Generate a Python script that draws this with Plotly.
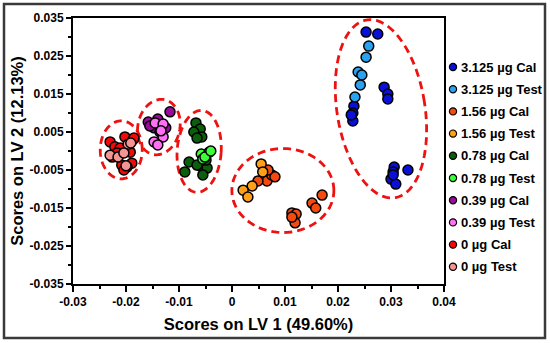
import numpy as np
import plotly.graph_objects as go

# ---- data (LV1, LV2 scores) ----
cal_3125_x = [0.0253, 0.0275, 0.0287, 0.0294, 0.0294, 0.0230, 0.0228, 0.0228, 0.0225,
              0.0306, 0.0304, 0.0300, 0.0309, 0.0304, 0.0332]
cal_3125_y = [0.0313, 0.0308, 0.0168, 0.0150, 0.0137, 0.0118, 0.0100, 0.0079, 0.0095,
              -0.0042, -0.0055, -0.0074, -0.0087, -0.0063, -0.0050]
test_3125_x = [0.0258, 0.0253, 0.0238, 0.0245, 0.0242, 0.0232]
test_3125_y = [0.0276, 0.0247, 0.0208, 0.0200, 0.0174, 0.0142]

cal_156_x = [0.0066, 0.0075, 0.0081, 0.0049, 0.0068, 0.0113, 0.0121, 0.0119, 0.0113,
             0.0151, 0.0170, 0.0158]
cal_156_y = [-0.0079, -0.0063, -0.0068, -0.0079, -0.0050, -0.0163, -0.0166, -0.0189, -0.0174,
             -0.0137, -0.0116, -0.0150]
test_156_x = [0.0055, 0.0058, 0.0038, 0.0021, 0.0030]
test_156_y = [-0.0034, -0.0055, -0.0092, -0.0103, -0.0121]

cal_078_x = [-0.0068, -0.0060, -0.0072, -0.0057, -0.0066, -0.0081, -0.0089, -0.0060,
             -0.0047, -0.0055, -0.0066, -0.0049]
cal_078_y = [0.0074, 0.0058, 0.0050, 0.0037, 0.0034, -0.0029, -0.0055, -0.0039,
             -0.0045, -0.0063, -0.0037, -0.0024]
test_078_x = [-0.0058, -0.0043, -0.0055, -0.0051, -0.0040]
test_078_y = [-0.0008, -0.0003, -0.0021, -0.0016, 0.0000]

cal_039_x = [-0.0117, -0.0158, -0.0147, -0.0155, -0.0125, -0.0136, -0.0140]
cal_039_y = [0.0103, 0.0076, 0.0061, 0.0066, 0.0061, 0.0050, 0.0084]
test_039_x = [-0.0145, -0.0130, -0.0130, -0.0147, -0.0140, -0.0134]
test_039_y = [0.0074, 0.0071, 0.0037, 0.0024, 0.0016, 0.0053]

cal_0_x = [-0.0230, -0.0202, -0.0187, -0.0185, -0.0221, -0.0211, -0.0226, -0.0189,
           -0.0198, -0.0208, -0.0192, -0.0217, -0.0204]
cal_0_y = [0.0024, 0.0037, 0.0029, 0.0034, 0.0011, 0.0008, -0.0016, -0.0032,
           -0.0042, -0.0037, -0.0003, -0.0005, -0.0050]
test_0_x = [-0.0196, -0.0230, -0.0215, -0.0200, -0.0204, -0.0191]
test_0_y = [0.0018, -0.0011, -0.0016, -0.0039, -0.0005, 0.0021]

series_names = ["3.125 µg Cal", "3.125 µg Test", "1.56 µg Cal", "1.56 µg Test",
                "0.78 µg Cal", "0.78 µg Test", "0.39 µg Cal", "0.39 µg Test",
                "0 µg Cal", "0 µg Test"]
series_x = [cal_3125_x, test_3125_x, cal_156_x, test_156_x, cal_078_x, test_078_x,
            cal_039_x, test_039_x, cal_0_x, test_0_x]
series_y = [cal_3125_y, test_3125_y, cal_156_y, test_156_y, cal_078_y, test_078_y,
            cal_039_y, test_039_y, cal_0_y, test_0_y]
colors = ["#0a10d8", "#2aa2f0", "#f44a10", "#ffa018", "#0b5e0b",
          "#38ff38", "#9a0a9a", "#ff70f4", "#f20a0a", "#f49494"]

x_ticks = [-0.03, -0.02, -0.01, 0, 0.01, 0.02, 0.03, 0.04]
x_ticklabels = ["-0.03", "-0.02", "-0.01", "0", "0.01", "0.02", "0.03", "0.04"]
y_ticks = [-0.035, -0.025, -0.015, -0.005, 0.005, 0.015, 0.025, 0.035]
y_ticklabels = ["-0.035", "-0.025", "-0.015", "-0.005", "0.005", "0.015", "0.025", "0.035"]

# ---- layout geometry ----
W, H = 550, 343
ML, MR, MT, MB = 73, 106, 18, 59
PW, PH = W - ML - MR, H - MT - MB
KX = PW / 0.07   # px per x unit
KY = PH / 0.07   # px per y unit

FONT = "Liberation Sans, Arial, sans-serif"

fig = go.Figure()

for name, xs, ys, c in zip(series_names, series_x, series_y, colors):
    fig.add_trace(go.Scatter(x=xs, y=ys, mode="markers", name=name,
                             marker=dict(size=10, color=c,
                                         line=dict(color="black", width=1.5)),
                             showlegend=False))


def ellipse_path(cx, cy, a, b, deg):
    # a, b semi-axes in screen px, deg rotation on screen
    t = np.linspace(0, 2 * np.pi, 90)
    th = np.radians(deg)
    dx = a * np.cos(t) * np.cos(th) - b * np.sin(t) * np.sin(th)
    dy = a * np.cos(t) * np.sin(th) + b * np.sin(t) * np.cos(th)
    xs = cx + dx / KX
    ys = cy + dy / KY
    return "M " + " L ".join(f"{x:.6f},{y:.6f}" for x, y in zip(xs, ys)) + " Z"


ellipses = [(-0.0209, 0.0003, 21, 29, 0),
            (-0.0138, 0.0063, 21, 28, -12),
            (-0.0062, -0.0001, 22, 41, -4),
            (0.0096, -0.0104, 51, 42, 0),
            (0.0281, 0.0111, 44, 90, 9)]
for cx, cy, a, b, d in ellipses:
    fig.add_shape(type="path", path=ellipse_path(cx, cy, a, b, d), xref="x", yref="y",
                  line=dict(color="#ee1111", width=2.8, dash="8px,5px"), layer="below")

# outer frame
fig.add_shape(type="rect", xref="paper", yref="paper",
              x0=(4 - ML) / PW, x1=(545 - ML) / PW,
              y0=(H - MB - 338) / PH, y1=(H - MB - 4) / PH,
              line=dict(color="#3a3a3a", width=2.5))

# legend drawn manually so marker and text sit close together
for i, (name, c) in enumerate(zip(series_names, colors)):
    py = 67 + 22.2 * i
    yp = (H - MB - py) / PH
    xm = (453 - ML) / PW
    fig.add_shape(type="circle", xref="paper", yref="paper",
                  xsizemode="pixel", ysizemode="pixel", xanchor=xm, yanchor=yp,
                  x0=-3.6, x1=3.6, y0=-3.6, y1=3.6,
                  fillcolor=c, line=dict(color="black", width=1.2))
    fig.add_annotation(x=(458.5 - ML) / PW, y=yp, xref="paper", yref="paper",
                       text=name, showarrow=False, xanchor="left", yanchor="middle",
                       font=dict(family=FONT, size=13, color="black", weight="bold"))

fig.update_layout(
    width=W, height=H,
    margin=dict(l=ML, r=MR, t=MT, b=MB),
    paper_bgcolor="white", plot_bgcolor="white",
    font=dict(family=FONT, color="black"),
    showlegend=False,
)

fig.update_xaxes(range=[-0.03, 0.04], tickvals=x_ticks, ticktext=x_ticklabels,
                 showgrid=False, zeroline=False,
                 showline=True, linecolor="black", linewidth=2, mirror=True,
                 ticks="outside", ticklen=6, tickwidth=1.5, tickcolor="black",
                 minor=dict(tickvals=[-0.025, -0.015, -0.005, 0.005, 0.015, 0.025, 0.035],
                            ticks="outside", ticklen=3, tickwidth=1.5, tickcolor="black"),
                 tickfont=dict(family=FONT, size=12, weight="bold"),
                 title=dict(text="Scores on LV 1 (49.60%)", standoff=10,
                            font=dict(family=FONT, size=16.5, weight="bold")))

fig.update_yaxes(range=[-0.035, 0.035], tickvals=y_ticks, ticktext=y_ticklabels,
                 showgrid=False, zeroline=False,
                 showline=True, linecolor="black", linewidth=2, mirror=True,
                 ticks="outside", ticklen=5, tickwidth=1.5, tickcolor="black",
                 minor=dict(tickvals=[-0.03, -0.02, -0.01, 0, 0.01, 0.02, 0.03],
                            ticks="outside", ticklen=3, tickwidth=1.5, tickcolor="black"),
                 tickfont=dict(family=FONT, size=12, weight="bold"),
                 title=dict(text="Scores on LV 2 (12.13%)", standoff=2,
                            font=dict(family=FONT, size=16.5, weight="bold")))

# page body has a default margin; drop it so the figure sits at the window origin
fig.write_html("out.html", config={"displayModeBar": False},
               post_script="document.body.style.margin='0';")
